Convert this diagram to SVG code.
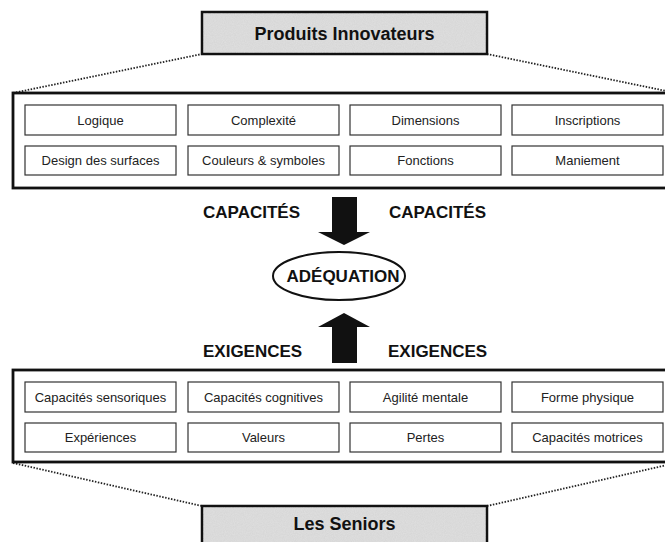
<svg xmlns="http://www.w3.org/2000/svg" width="665" height="542" viewBox="0 0 665 542">
<defs>
<filter id="grain" x="0" y="0" width="100%" height="100%">
<feTurbulence type="fractalNoise" baseFrequency="0.9" numOctaves="2" seed="3" result="n"/>
<feColorMatrix in="n" type="matrix" values="0 0 0 0 0.78  0 0 0 0 0.78  0 0 0 0 0.78  0 0 0 -1.2 1.1" result="g"/>
<feComposite in="g" in2="SourceGraphic" operator="in"/>
</filter>
</defs>
<style>
.title{fill:#d6d6d6;stroke:#111;stroke-width:2.5}
.titletext{font-family:"Liberation Sans",Arial,sans-serif;font-weight:bold;font-size:18px;fill:#111;text-anchor:middle}
.outer{fill:#fff;stroke:#111;stroke-width:2.8}
.cell{fill:#fff;stroke:#333;stroke-width:1.2}
.celltext{font-family:"Liberation Sans",Arial,sans-serif;font-size:13px;fill:#222;text-anchor:middle}
.label{font-family:"Liberation Sans",Arial,sans-serif;font-weight:bold;font-size:17px;fill:#111}
.dot{stroke:#222;stroke-width:1.8;stroke-dasharray:1.5 1.5;fill:none}
.arrow{fill:#111}
</style>
<rect width="665" height="542" fill="#fff"/>

<g id="connectors">
<line class="dot" x1="13" y1="93" x2="202" y2="54"/>
<line class="dot" x1="487" y1="54" x2="676" y2="93"/>
<line class="dot" x1="13" y1="463" x2="202" y2="506"/>
<line class="dot" x1="487" y1="506" x2="676" y2="463"/>
<polygon class="arrow" points="332,197 357,197 357,232 370,232 344,245 318,232 332,232"/>
<polygon class="arrow" points="344,313 370,327 357,327 357,363 332,363 332,327 318,327"/>
</g>

<g id="produits-innovateurs">
<rect class="title" x="202" y="12" width="285" height="42"/>
<rect x="203.5" y="13.5" width="282" height="39" fill="#ccc" filter="url(#grain)" opacity="0.6"/>
<text class="titletext" x="344.5" y="40">Produits Innovateurs</text>
</g>

<g id="produits-attributs">
<rect class="outer" x="13" y="93" width="663" height="95"/>
<rect class="cell" x="25" y="105" width="151" height="30"/>
<text class="celltext" x="100.5" y="125">Logique</text>
<rect class="cell" x="188" y="105" width="151" height="30"/>
<text class="celltext" x="263.5" y="125">Complexité</text>
<rect class="cell" x="350" y="105" width="151" height="30"/>
<text class="celltext" x="425.5" y="125">Dimensions</text>
<rect class="cell" x="512" y="105" width="151" height="30"/>
<text class="celltext" x="587.5" y="125">Inscriptions</text>
<rect class="cell" x="25" y="146" width="151" height="29"/>
<text class="celltext" x="100.5" y="165">Design des surfaces</text>
<rect class="cell" x="188" y="146" width="151" height="29"/>
<text class="celltext" x="263.5" y="165">Couleurs &amp; symboles</text>
<rect class="cell" x="350" y="146" width="151" height="29"/>
<text class="celltext" x="425.5" y="165">Fonctions</text>
<rect class="cell" x="512" y="146" width="151" height="29"/>
<text class="celltext" x="587.5" y="165">Maniement</text>
</g>

<g id="capacites">
<text class="label" x="203" y="218">CAPACITÉS</text>
<text class="label" x="389" y="218">CAPACITÉS</text>
</g>

<g id="adequation">
<ellipse cx="339" cy="276" rx="66" ry="24" fill="#fff" stroke="#111" stroke-width="2"/>
<text class="label" x="343" y="282" text-anchor="middle">ADÉQUATION</text>
</g>

<g id="exigences">
<text class="label" x="203" y="357">EXIGENCES</text>
<text class="label" x="388" y="357">EXIGENCES</text>
</g>

<g id="seniors-attributs">
<rect class="outer" x="13" y="370" width="663" height="92"/>
<rect class="cell" x="25" y="382" width="151" height="30"/>
<text class="celltext" x="100.5" y="402">Capacités sensoriques</text>
<rect class="cell" x="188" y="382" width="151" height="30"/>
<text class="celltext" x="263.5" y="402">Capacités cognitives</text>
<rect class="cell" x="350" y="382" width="151" height="30"/>
<text class="celltext" x="425.5" y="402">Agilité mentale</text>
<rect class="cell" x="512" y="382" width="151" height="30"/>
<text class="celltext" x="587.5" y="402">Forme physique</text>
<rect class="cell" x="25" y="423" width="151" height="29"/>
<text class="celltext" x="100.5" y="442">Expériences</text>
<rect class="cell" x="188" y="423" width="151" height="29"/>
<text class="celltext" x="263.5" y="442">Valeurs</text>
<rect class="cell" x="350" y="423" width="151" height="29"/>
<text class="celltext" x="425.5" y="442">Pertes</text>
<rect class="cell" x="512" y="423" width="151" height="29"/>
<text class="celltext" x="587.5" y="442">Capacités motrices</text>
</g>

<g id="les-seniors">
<rect class="title" x="202" y="506" width="285" height="42"/>
<rect x="203.5" y="507.5" width="282" height="36" fill="#ccc" filter="url(#grain)" opacity="0.6"/>
<text class="titletext" x="344.5" y="530">Les Seniors</text>
</g>
</svg>
